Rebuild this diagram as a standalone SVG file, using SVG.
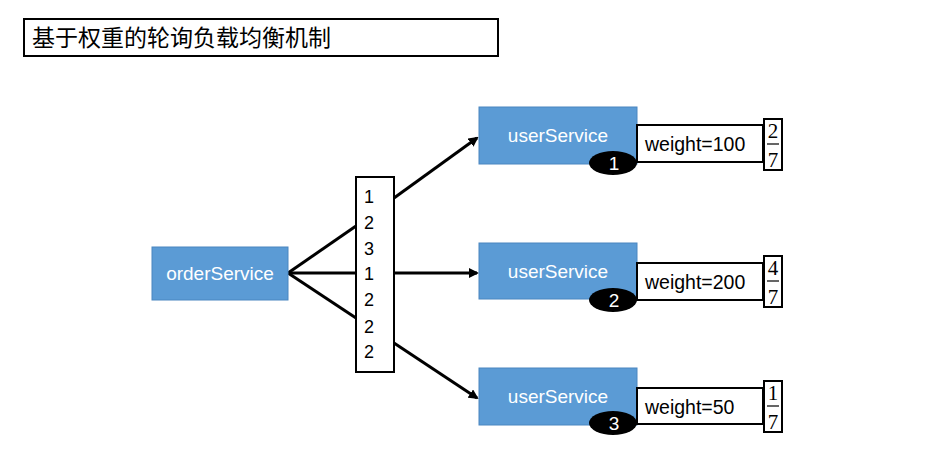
<svg xmlns="http://www.w3.org/2000/svg" width="928" height="462" viewBox="0 0 928 462">
<style>
.svc{fill:#5b9bd5;stroke:#4a86c0;stroke-width:1}
.svct{font-family:"Liberation Sans",Arial,sans-serif;font-size:19px;fill:#ffffff;text-anchor:middle}
.box{fill:#ffffff;stroke:#000000;stroke-width:2}
.t{font-family:"Liberation Sans",Arial,sans-serif;font-size:18px;fill:#000000}
.w{font-family:"Liberation Sans",Arial,sans-serif;font-size:19.5px;fill:#000000}
.fr{font-family:"Liberation Serif","Times New Roman",serif;font-size:21px;fill:#000000;text-anchor:middle}
.badge{fill:#000000}
.bt{font-family:"Liberation Sans",Arial,sans-serif;font-size:19px;fill:#ffffff;text-anchor:middle}
.ln{stroke:#000000;stroke-width:3;fill:none}
</style>
<defs>
<marker id="ah" markerWidth="10" markerHeight="10" refX="8" refY="5" orient="auto" markerUnits="userSpaceOnUse">
<path d="M0,0 L10,5 L0,10 z" fill="#000000"/>
</marker>
</defs>
<rect width="928" height="462" fill="#ffffff"/>
<g id="title">
<rect x="24" y="19" width="474" height="37" class="box"/>
<text x="32" y="46" font-family="'Noto Sans CJK SC',sans-serif" font-size="23" fill="#000">基于权重的轮询负载均衡机制</text>
</g>
<g id="connectors">
<line x1="288" y1="273" x2="356" y2="226" class="ln"/>
<line x1="394" y1="198" x2="477" y2="138" class="ln" marker-end="url(#ah)"/>
<line x1="288" y1="273" x2="477" y2="273" class="ln" marker-end="url(#ah)"/>
<line x1="288" y1="273" x2="356" y2="318" class="ln"/>
<line x1="394" y1="343" x2="477" y2="398" class="ln" marker-end="url(#ah)"/>
</g>
<g id="orderService">
<rect x="152" y="247" width="136" height="53" class="svc"/>
<text x="220" y="280" class="svct">orderService</text>
</g>
<g id="sequence">
<rect x="356" y="177" width="38" height="195" class="box"/>
<text x="364" y="203" class="t">1</text>
<text x="364" y="229" class="t">2</text>
<text x="364" y="255" class="t">3</text>
<text x="364" y="280" class="t">1</text>
<text x="364" y="306" class="t">2</text>
<text x="364" y="333" class="t">2</text>
<text x="364" y="358" class="t">2</text>
</g>
<g id="userService1">
<rect x="479" y="107" width="158" height="57" class="svc"/>
<text x="558" y="142" class="svct">userService</text>
<rect x="637" y="125" width="126" height="37" class="box"/>
<text x="645" y="151" class="w">weight=100</text>
<rect x="764" y="119" width="18" height="51" class="box"/>
<text x="773" y="138" class="fr">2</text>
<line x1="767" y1="144" x2="779" y2="144" stroke="#000" stroke-width="1.2"/>
<text x="773" y="167" class="fr">7</text>
<ellipse cx="613" cy="163" rx="24" ry="12" class="badge"/>
<text x="614" y="170" class="bt">1</text>
</g>
<g id="userService2">
<rect x="479" y="243" width="158" height="56" class="svc"/>
<text x="558" y="278" class="svct">userService</text>
<rect x="637" y="263" width="126" height="37" class="box"/>
<text x="645" y="289" class="w">weight=200</text>
<rect x="764" y="256" width="18" height="51" class="box"/>
<text x="773" y="275" class="fr">4</text>
<line x1="767" y1="281" x2="779" y2="281" stroke="#000" stroke-width="1.2"/>
<text x="773" y="304" class="fr">7</text>
<ellipse cx="613" cy="300" rx="24" ry="12" class="badge"/>
<text x="614" y="307" class="bt">2</text>
</g>
<g id="userService3">
<rect x="479" y="368" width="158" height="57" class="svc"/>
<text x="558" y="403" class="svct">userService</text>
<rect x="637" y="388" width="126" height="36" class="box"/>
<text x="645" y="414" class="w">weight=50</text>
<rect x="764" y="381" width="18" height="51" class="box"/>
<text x="773" y="400" class="fr">1</text>
<line x1="767" y1="406" x2="779" y2="406" stroke="#000" stroke-width="1.2"/>
<text x="773" y="429" class="fr">7</text>
<ellipse cx="613" cy="423" rx="24" ry="12" class="badge"/>
<text x="614" y="430" class="bt">3</text>
</g>
</svg>
